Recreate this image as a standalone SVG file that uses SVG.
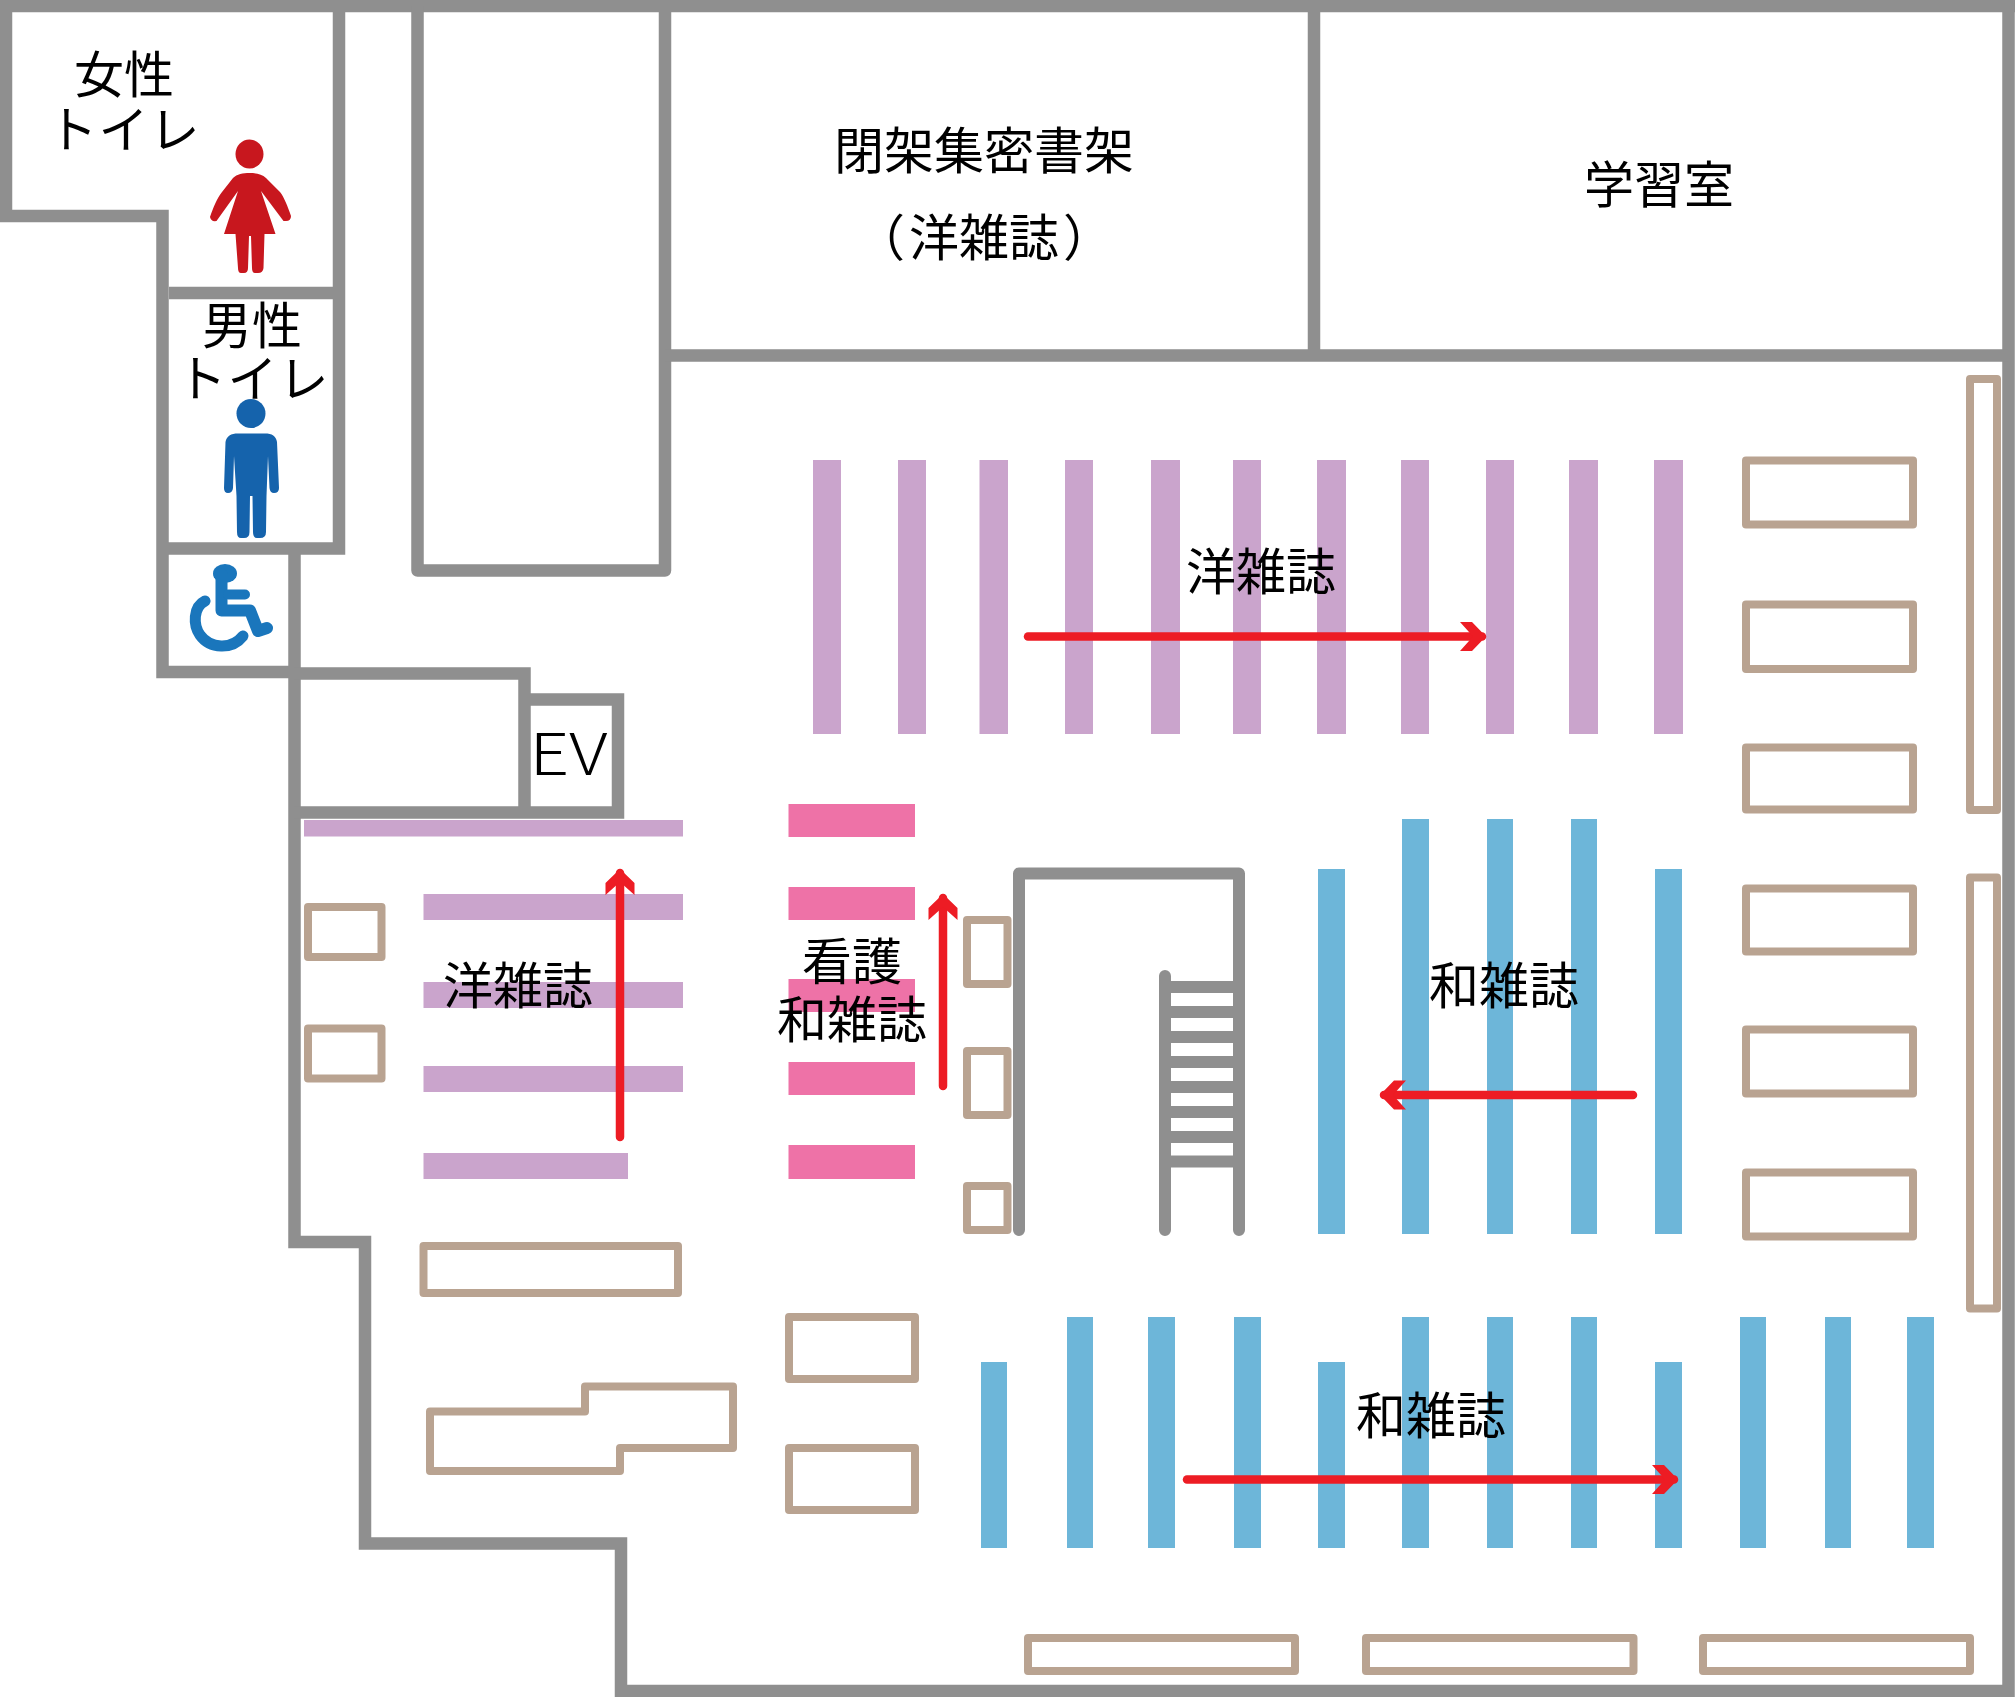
<svg xmlns="http://www.w3.org/2000/svg" width="2015" height="1697" viewBox="0 0 2015 1697">
<defs>
<style>
.wall{fill:none;stroke:#8f8f8f;stroke-width:12.5;stroke-linejoin:miter}
.stair{fill:none;stroke:#8f8f8f;stroke-width:12;stroke-linecap:round;stroke-linejoin:round}
.rung{fill:none;stroke:#8f8f8f;stroke-width:12}
.tan{fill:#fff;stroke:#b9a391;stroke-width:8;stroke-linejoin:round}
.lilac{fill:#caa4cc}
.blue{fill:#6db6d9}
.pink{fill:#ee72a7}
.arrow{fill:none;stroke:#ed1c24;stroke-width:8.5;stroke-linecap:round;marker-end:url(#head)}
text{font-family:"Noto Sans CJK JP","Noto Sans",sans-serif;font-size:50px;font-weight:400;fill:#000;text-anchor:middle}
</style>
<marker id="head" markerUnits="userSpaceOnUse" markerWidth="30" markerHeight="30" viewBox="0 0 30 30" refX="22" refY="15" orient="auto">
<path d="M0 .5H12L26 15L12 29.5H0L13 15Z" fill="#ed1c24"/>
</marker>
</defs>
<rect width="2015" height="1697" fill="#fff"/>
<g id="shelves-lilac" class="lilac">
<rect x="813" y="460" width="28" height="274"/><rect x="898" y="460" width="28" height="274"/><rect x="979.500" y="460" width="28.500" height="274"/><rect x="1065" y="460" width="28" height="274"/><rect x="1151" y="460" width="29" height="274"/><rect x="1233" y="460" width="28" height="274"/><rect x="1317" y="460" width="29" height="274"/><rect x="1401" y="460" width="28" height="274"/><rect x="1486" y="460" width="28" height="274"/><rect x="1569" y="460" width="29" height="274"/><rect x="1654" y="460" width="29" height="274"/>
<rect x="304" y="820" width="379" height="16.500"/><rect x="423.500" y="894" width="259.500" height="26"/><rect x="423.500" y="982" width="259.500" height="26"/><rect x="423.500" y="1066" width="259.500" height="26"/><rect x="423.500" y="1153" width="204.500" height="26"/>
</g>
<g id="shelves-pink" class="pink">
<rect x="788.500" y="804" width="126.500" height="33"/><rect x="788.500" y="887" width="126.500" height="33"/><rect x="788.500" y="979" width="126.500" height="33"/><rect x="788.500" y="1062" width="126.500" height="33"/><rect x="788.500" y="1145" width="126.500" height="34"/>
</g>
<g id="shelves-blue" class="blue">
<rect x="1318" y="869" width="27" height="365"/><rect x="1402" y="819" width="27" height="415"/><rect x="1487" y="819" width="26" height="415"/><rect x="1571" y="819" width="26" height="415"/><rect x="1655" y="869" width="27" height="365"/>
<rect x="981" y="1362" width="26" height="186"/><rect x="1067" y="1317" width="26" height="231"/><rect x="1148" y="1317" width="27" height="231"/><rect x="1234" y="1317" width="27" height="231"/><rect x="1318" y="1362" width="27" height="186"/><rect x="1402" y="1317" width="27" height="231"/><rect x="1487" y="1317" width="26" height="231"/><rect x="1571" y="1317" width="26" height="231"/><rect x="1655" y="1362" width="27" height="186"/><rect x="1740" y="1317" width="26" height="231"/><rect x="1825" y="1317" width="26" height="231"/><rect x="1907" y="1317" width="27" height="231"/>
</g>
<g id="walls">
<path class="wall" d="M0 6H2015M6 0V216H162.500V672H294M339 6V548.500H162.500M169 293H339M294.500 548.500V1242H365V1543.500H621V1691H2008.500V0"/>
<path class="wall" d="M294 673.500H524.500V812.500M294 812.500H618V699.500H524.500"/>
<path class="wall" d="M417.500 6V570.500H665V6" style="stroke-linejoin:round"/>
<path class="wall" d="M665 355.500H2008M1314 6V355"/>
</g>
<g id="stairs">
<path class="stair" d="M1019 1230V873.500H1239V1230M1165 976V1230"/>
<path class="rung" d="M1165 987H1239M1165 1012H1239M1165 1037H1239M1165 1062H1239M1165 1087H1239M1165 1112H1239M1165 1137H1239M1165 1161.500H1239"/>
</g>
<g id="furniture-tan" class="tan">
<rect x="1746" y="460.500" width="167" height="64"/><rect x="1746" y="604.500" width="167" height="64.500"/><rect x="1746" y="747.500" width="167" height="62"/><rect x="1746" y="888.500" width="167" height="63"/><rect x="1746" y="1029.500" width="167" height="64"/><rect x="1746" y="1172.500" width="167" height="64"/>
<rect x="1970" y="379" width="27" height="431"/><rect x="1970" y="877.500" width="27" height="431"/>
<rect x="1028" y="1638" width="267" height="33"/><rect x="1366" y="1638" width="267.500" height="33"/><rect x="1703" y="1638" width="267" height="33"/>
<rect x="308" y="907" width="73.500" height="50"/><rect x="308" y="1028.500" width="73.500" height="50"/>
<rect x="967" y="920" width="40.500" height="64"/><rect x="967" y="1051" width="40.500" height="64"/><rect x="967" y="1186" width="40.500" height="44"/>
<rect x="423.500" y="1246" width="254.500" height="47"/>
<path d="M430 1411.500H585V1386.500H733V1448H620V1471H430Z"/>
<rect x="789" y="1317" width="126" height="62"/><rect x="789" y="1448" width="126" height="62"/>
</g>
<g id="connectors">
<line class="arrow" x1="1028" y1="636.500" x2="1482" y2="636.500"/>
<line class="arrow" x1="620" y1="1137" x2="620" y2="873"/>
<line class="arrow" x1="943" y1="1086" x2="943" y2="898"/>
<line class="arrow" x1="1633" y1="1095" x2="1384" y2="1095"/>
<line class="arrow" x1="1187" y1="1479.500" x2="1674" y2="1479.500"/>
</g>
<g id="icon-female" fill="#c8171e">
<ellipse cx="249.500" cy="154" rx="14" ry="14.500"/>
<path d="M249.500 173C256 173 262 174 266 178L280 192C284 197 288 207 291 216Q291 221 286 221L283.500 221L261 191L275.500 234H264.500L263.500 268Q263 273 258 273H255Q252 273 252 268L251 236H249L248 268Q248 273 244 273H241Q238 273 238 268L235.500 234H224L238 191L216.500 221Q211 222 210 217C213 208 217 198 222 192L233 178C237 174 243 173 249.500 173Z"/>
</g>
<g id="icon-male" fill="#1563ac">
<ellipse cx="251" cy="413.500" rx="14.500" ry="14.500"/>
<path d="M238 433.500H265C272 433.500 276 436 277 442L279 488Q279 493 274 493Q270 493 269.500 488L268 456L266.500 496L266 532Q266 538 260 538H257Q253 538 253 532L252.500 496H250L249.500 532Q249.500 538 244 538H241Q237 538 237 532L236.500 496L234 456L233 488Q232.500 493 228 493Q224 493 224 488L225.500 442C226.500 436 231 433.500 238 433.500Z"/>
</g>
<g id="icon-wheelchair" fill="none" stroke="#1a76bc" stroke-linecap="round" stroke-linejoin="round">
<ellipse cx="225" cy="573.500" rx="12" ry="9.500" fill="#1a76bc" stroke="none"/>
<path d="M221.500 574V610.500H250L258 631L267 628" stroke-width="12"/>
<path d="M228 594.500H245" stroke-width="10"/>
<path d="M205 601C193 607 193 625 200 635C210 649 232 650 243 636" stroke-width="11"/>
</g>
<g id="labels">
<text x="124" y="93">女性</text>
<text x="124" y="148" style="letter-spacing:1px">トイレ</text>
<text x="252" y="344">男性</text>
<text x="253" y="397" style="letter-spacing:1px">トイレ</text>
<text x="568.500" y="775" style="font-size:58px;font-weight:300" textLength="78" lengthAdjust="spacingAndGlyphs">EV</text>
<text x="984" y="169">閉架集密書架</text>
<text x="984" y="256">（<tspan dx="4">洋雑誌</tspan><tspan dx="4">）</tspan></text>
<text x="1659" y="203">学習室</text>
<text x="1261" y="590">洋雑誌</text>
<text x="518" y="1004">洋雑誌</text>
<text x="852" y="980">看護</text>
<text x="852" y="1038">和雑誌</text>
<text x="1504" y="1004">和雑誌</text>
<text x="1431" y="1434">和雑誌</text>
</g>
</svg>
